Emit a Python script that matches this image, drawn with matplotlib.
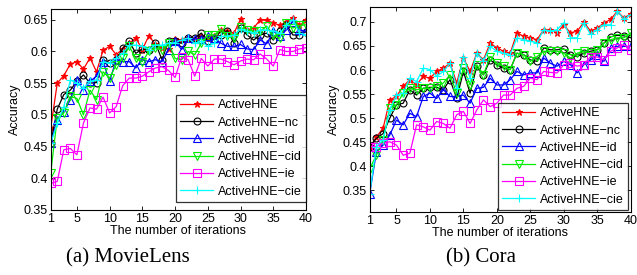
import numpy as np
import matplotlib
matplotlib.use("Agg")
import matplotlib.pyplot as plt

plt.rcParams['font.family'] = ['Liberation Sans', 'DejaVu Sans']

iters = np.arange(1, 41)
names = ["ActiveHNE", "ActiveHNE\u2212nc", "ActiveHNE\u2212id",
         "ActiveHNE\u2212cid", "ActiveHNE\u2212ie", "ActiveHNE\u2212cie"]

# MovieLens
ml_hne = [0.479, 0.550, 0.562, 0.580, 0.584, 0.572, 0.590, 0.568, 0.602, 0.608,
          0.595, 0.604, 0.613, 0.621, 0.603, 0.625, 0.611, 0.605, 0.604, 0.619,
          0.618, 0.622, 0.619, 0.624, 0.621, 0.625, 0.634, 0.632, 0.629, 0.651,
          0.634, 0.637, 0.650, 0.649, 0.645, 0.641, 0.647, 0.653, 0.641, 0.649]
ml_nc = [0.455, 0.509, 0.532, 0.539, 0.553, 0.563, 0.550, 0.551, 0.587, 0.582,
         0.587, 0.605, 0.616, 0.597, 0.604, 0.603, 0.613, 0.587, 0.616, 0.616,
         0.613, 0.621, 0.621, 0.629, 0.616, 0.619, 0.626, 0.633, 0.613, 0.637,
         0.626, 0.618, 0.626, 0.629, 0.618, 0.632, 0.642, 0.626, 0.626, 0.631]
ml_id = [0.455, 0.492, 0.505, 0.524, 0.555, 0.539, 0.553, 0.561, 0.584, 0.553,
         0.587, 0.584, 0.584, 0.574, 0.587, 0.584, 0.587, 0.584, 0.603, 0.616,
         0.603, 0.621, 0.619, 0.619, 0.624, 0.621, 0.613, 0.608, 0.608, 0.611,
         0.604, 0.603, 0.618, 0.612, 0.632, 0.624, 0.634, 0.647, 0.634, 0.632]
ml_cid = [0.408, 0.495, 0.503, 0.529, 0.526, 0.500, 0.539, 0.524, 0.568, 0.558,
          0.579, 0.589, 0.608, 0.589, 0.584, 0.600, 0.605, 0.603, 0.613, 0.589,
          0.587, 0.600, 0.595, 0.613, 0.626, 0.626, 0.635, 0.624, 0.621, 0.638,
          0.634, 0.632, 0.632, 0.640, 0.626, 0.621, 0.645, 0.637, 0.641, 0.642]
ml_ie = [0.392, 0.395, 0.445, 0.447, 0.437, 0.487, 0.511, 0.509, 0.528, 0.503,
         0.513, 0.546, 0.558, 0.558, 0.561, 0.568, 0.574, 0.576, 0.570, 0.559,
         0.591, 0.587, 0.561, 0.589, 0.577, 0.588, 0.588, 0.584, 0.579, 0.585,
         0.588, 0.587, 0.596, 0.588, 0.577, 0.603, 0.600, 0.600, 0.604, 0.606]
ml_cie = [0.455, 0.487, 0.513, 0.555, 0.550, 0.542, 0.553, 0.555, 0.584, 0.582,
          0.589, 0.597, 0.610, 0.610, 0.608, 0.603, 0.610, 0.610, 0.613, 0.614,
          0.618, 0.621, 0.613, 0.616, 0.608, 0.613, 0.624, 0.624, 0.626, 0.635,
          0.632, 0.629, 0.634, 0.634, 0.632, 0.629, 0.642, 0.650, 0.629, 0.626]

# Cora
cora_hne = [0.437, 0.461, 0.479, 0.538, 0.545, 0.566, 0.580, 0.569, 0.587, 0.583,
            0.597, 0.604, 0.614, 0.573, 0.625, 0.597, 0.635, 0.621, 0.656, 0.646,
            0.639, 0.635, 0.677, 0.670, 0.667, 0.663, 0.684, 0.684, 0.677, 0.694,
            0.677, 0.681, 0.699, 0.681, 0.687, 0.698, 0.705, 0.722, 0.708, 0.717]
cora_nc = [0.441, 0.458, 0.468, 0.500, 0.528, 0.531, 0.559, 0.548, 0.562, 0.564,
           0.564, 0.559, 0.580, 0.541, 0.597, 0.552, 0.608, 0.590, 0.621, 0.611,
           0.604, 0.601, 0.635, 0.632, 0.621, 0.618, 0.646, 0.642, 0.642, 0.644,
           0.632, 0.628, 0.635, 0.639, 0.642, 0.656, 0.669, 0.672, 0.671, 0.667]
cora_id = [0.343, 0.430, 0.444, 0.465, 0.496, 0.486, 0.510, 0.503, 0.545, 0.552,
           0.541, 0.559, 0.545, 0.545, 0.548, 0.531, 0.562, 0.564, 0.583, 0.569,
           0.569, 0.580, 0.597, 0.590, 0.594, 0.594, 0.625, 0.614, 0.608, 0.618,
           0.611, 0.594, 0.611, 0.621, 0.632, 0.618, 0.646, 0.649, 0.649, 0.649]
cora_cid = [0.395, 0.423, 0.455, 0.521, 0.528, 0.552, 0.562, 0.559, 0.562, 0.562,
            0.567, 0.573, 0.590, 0.552, 0.604, 0.569, 0.611, 0.590, 0.628, 0.614,
            0.608, 0.601, 0.635, 0.632, 0.618, 0.628, 0.639, 0.639, 0.639, 0.635,
            0.625, 0.635, 0.639, 0.635, 0.642, 0.656, 0.663, 0.667, 0.667, 0.677]
cora_ie = [0.441, 0.441, 0.448, 0.451, 0.444, 0.423, 0.427, 0.486, 0.482, 0.475,
           0.493, 0.489, 0.479, 0.507, 0.514, 0.489, 0.517, 0.538, 0.524, 0.531,
           0.548, 0.548, 0.562, 0.566, 0.583, 0.580, 0.597, 0.595, 0.594, 0.611,
           0.614, 0.608, 0.611, 0.628, 0.627, 0.621, 0.639, 0.646, 0.653, 0.642]
cora_cie = [0.343, 0.441, 0.455, 0.517, 0.548, 0.552, 0.583, 0.576, 0.604, 0.601,
            0.587, 0.597, 0.614, 0.562, 0.628, 0.583, 0.635, 0.618, 0.649, 0.639,
            0.635, 0.632, 0.667, 0.663, 0.660, 0.656, 0.684, 0.681, 0.684, 0.698,
            0.667, 0.667, 0.698, 0.674, 0.684, 0.694, 0.694, 0.722, 0.705, 0.715]

colors = ["#ff0000", "#000000", "#0000ff", "#00ee00", "#ff00ff", "#00ffff"]
markers = ["*", "o", "^", "v", "s", "+"]
msizes = [4.5, 5, 5.5, 5.5, 5.5, 6]

fig = plt.figure(figsize=(6.37, 2.75), dpi=100)
ax1 = fig.add_axes([0.0796, 0.2364, 0.4008, 0.7309])
ax2 = fig.add_axes([0.5804, 0.2291, 0.4097, 0.7455])


def draw(ax, series, ylim, yticks, ylabels, legend_anchor):
    for ys, name, c, m, s in zip(series, names, colors, markers, msizes):
        ax.plot(iters, ys, color=c, marker=m, markersize=s, linewidth=0.9,
                markerfacecolor="none" if m not in "*+" else c,
                markeredgewidth=0.8, label=name)
    ax.set_xlim(1, 40)
    ax.set_ylim(*ylim)
    ax.set_xticks([1, 5, 10, 15, 20, 25, 30, 35, 40])
    ax.set_yticks(yticks)
    ax.set_yticklabels(ylabels)
    ax.tick_params(direction="in", top=True, right=True, labelsize=9,
                   length=3, width=0.6, pad=2)
    for sp in ax.spines.values():
        sp.set_linewidth(0.8)
    ax.set_xlabel("The number of iterations", fontsize=9, labelpad=0)
    ax.set_ylabel("Accuracy", fontsize=9, labelpad=2)
    leg = ax.legend(loc="lower right", bbox_to_anchor=legend_anchor,
                    fontsize=9, frameon=True, fancybox=False,
                    borderpad=0.35, labelspacing=0.42, handlelength=2.6,
                    handletextpad=0.4, borderaxespad=0)
    leg.get_frame().set_edgecolor("black")
    leg.get_frame().set_linewidth(0.9)


draw(ax1, [ml_hne, ml_nc, ml_id, ml_cid, ml_ie, ml_cie], (0.35, 0.667),
     [0.35, 0.4, 0.45, 0.5, 0.55, 0.6, 0.65],
     ["0.35", "0.4", "0.45", "0.5", "0.55", "0.6", "0.65"], (1.0, 0.04))
draw(ax2, [cora_hne, cora_nc, cora_id, cora_cid, cora_ie, cora_cie], (0.305, 0.731),
     [0.35, 0.4, 0.45, 0.5, 0.55, 0.6, 0.65, 0.7],
     ["0.35", "0.4", "0.45", "0.5", "0.55", "0.6", "0.65", "0.7"], (0.99, 0.01))

fig.text(0.2, 0.062, "(a) MovieLens", family=["Liberation Serif", "DejaVu Serif"],
         fontsize=15, ha="center", va="center")
fig.text(0.755, 0.062, "(b) Cora", family=["Liberation Serif", "DejaVu Serif"],
         fontsize=15, ha="center", va="center")

fig.savefig("out.png", dpi=100)
